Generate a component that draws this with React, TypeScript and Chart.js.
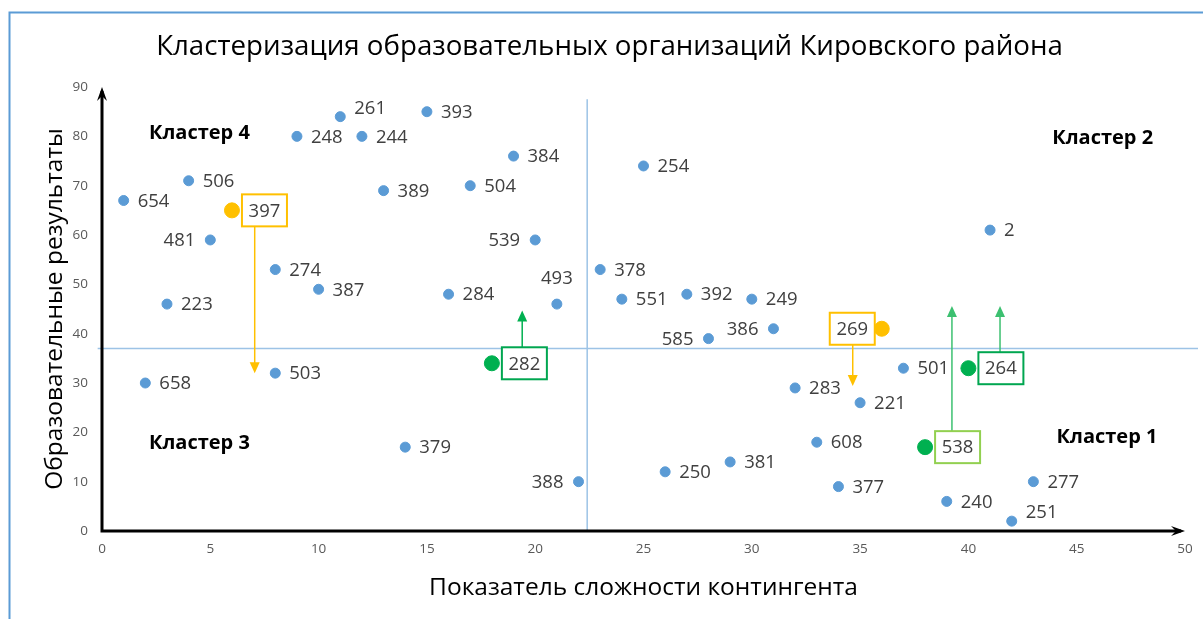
import React, { useEffect, useRef } from 'react';
import { Chart, registerables } from 'chart.js';

Chart.register(...registerables);

const chartTitle = 'Кластеризация образовательных организаций Кировского района';
const xAxisTitle = 'Показатель сложности контингента';
const yAxisTitle = 'Образовательные результаты';

const xTickMin = 0;
const xTickMax = 50;
const xTickStep = 5;
const yTickMin = 0;
const yTickMax = 90;
const yTickStep = 10;

// regular schools (blue)
const pointIds = [654, 506, 481, 274, 387, 223, 261, 248, 244, 393, 389, 504, 384, 254, 539, 284, 493, 378, 551, 392, 249, 585, 386, 2, 501, 283, 221, 608, 377, 240, 251, 277, 250, 381, 388, 379, 658, 503];
const pointX = [1, 4, 5, 8, 10, 3, 11, 9, 12, 15, 13, 17, 19, 25, 20, 16, 21, 23, 24, 27, 30, 28, 31, 41, 37, 32, 35, 33, 34, 39, 42, 43, 26, 29, 22, 14, 2, 8];
const pointY = [67, 71, 59, 53, 49, 46, 84, 80, 80, 85, 69, 70, 76, 74, 59, 48, 46, 53, 47, 48, 47, 39, 41, 61, 33, 29, 26, 18, 9, 6, 2, 10, 12, 14, 10, 17, 30, 32];
const labelsLeft = [481, 539, 585, 386, 388];
const labelsAbove = [493];
const labelsRaised = [261, 251];

// schools moving down (orange)
const downIds = [397, 269];
const downX = [6, 36];
const downY = [65, 41];
// schools moving up (green)
const upIds = [282, 264, 538];
const upX = [18, 40, 38];
const upY = [34, 33, 17];
const boxLeft = [269];

// arrows: from the labelled box to the target level
const arrowIds = [397, 282, 269, 538, 264];
const arrowX = [7.05, 19.4, 34.66, 39.24, 41.46];
const arrowTipY = [32, 44.7, 29.4, 45.6, 45.6];

// cluster dividers
const dividerX = 22.4;
const dividerY = 37;

const clusterNames = ['Кластер 4', 'Кластер 2', 'Кластер 3', 'Кластер 1'];
const clusterX = [4.5, 46.2, 4.5, 46.4];
const clusterY = [80.7, 79.7, 17.8, 19];

const FONT = "'Open Sans', sans-serif";
const BLUE = '#5B9BD5';
const ORANGE = '#FFC000';
const GREEN = '#00B050';
const LIGHT_GREEN = '#92D050';
const LINE_BLUE = '#9DC3E6';
const LABEL = '#404040';

const boxColor = (id: number) => {
  if (downIds.includes(id)) return ORANGE;
  if (id === 538) return LIGHT_GREEN;
  return '#00A650';
};
const arrowColor = (id: number) => {
  if (downIds.includes(id)) return ORANGE;
  if (id === 282) return '#00B050';
  return '#3CC070';
};

function boxRect(chart: any, id: number) {
  const xs = chart.scales.x;
  const ys = chart.scales.y;
  let vx = 0, vy = 0;
  const di = downIds.indexOf(id);
  if (di >= 0) { vx = downX[di]; vy = downY[di]; }
  const ui = upIds.indexOf(id);
  if (ui >= 0) { vx = upX[ui]; vy = upY[ui]; }
  const px = xs.getPixelForValue(vx);
  const py = ys.getPixelForValue(vy);
  const w = 45;
  const h = 32;
  const left = boxLeft.includes(id) ? px - 7 - w : px + 10;
  return { left, top: py - h / 2, w, h };
}

const annotPlugin = {
  id: 'annot',
  beforeDraw(chart: any) {
    const ctx = chart.ctx;
    ctx.save();
    ctx.strokeStyle = '#5B9BD5';
    ctx.lineWidth = 2;
    ctx.beginPath();
    ctx.moveTo(9.5, chart.height);
    ctx.lineTo(9.5, 12.5);
    ctx.lineTo(chart.width, 12.5);
    ctx.stroke();
    ctx.restore();
  },
  afterDatasetsDraw(chart: any) {
    const ctx = chart.ctx;
    const xs = chart.scales.x;
    const ys = chart.scales.y;
    const x0 = xs.getPixelForValue(xTickMin);
    const x1 = xs.getPixelForValue(xTickMax);
    const y0 = ys.getPixelForValue(yTickMin);
    const y1 = ys.getPixelForValue(yTickMax);
    ctx.save();
    // axes with arrows
    ctx.strokeStyle = '#000';
    ctx.fillStyle = '#000';
    ctx.lineWidth = 3;
    ctx.lineCap = 'butt';
    ctx.beginPath();
    ctx.moveTo(x0, y0);
    ctx.lineTo(x1 - 4, y0);
    ctx.moveTo(x0, y0 + 1.5);
    ctx.lineTo(x0, y1 + 4);
    ctx.stroke();
    ctx.beginPath();
    ctx.moveTo(x1, y0);
    ctx.lineTo(x1 - 14, y0 - 5);
    ctx.lineTo(x1 - 9, y0);
    ctx.lineTo(x1 - 14, y0 + 5);
    ctx.closePath();
    ctx.fill();
    ctx.beginPath();
    ctx.moveTo(x0, y1);
    ctx.lineTo(x0 - 5, y1 + 14);
    ctx.lineTo(x0, y1 + 9);
    ctx.lineTo(x0 + 5, y1 + 14);
    ctx.closePath();
    ctx.fill();

    // point labels
    ctx.font = `18.5px ${FONT}`;
    ctx.fillStyle = LABEL;
    ctx.textBaseline = 'middle';
    pointIds.forEach((id, i) => {
      const px = xs.getPixelForValue(pointX[i]);
      const py = ys.getPixelForValue(pointY[i]);
      const t = String(id);
      if (labelsLeft.includes(id)) {
        ctx.textAlign = 'right';
        ctx.fillText(t, px - 15, py + 1);
      } else if (labelsAbove.includes(id)) {
        ctx.textAlign = 'center';
        ctx.fillText(t, px, py - 25);
      } else {
        ctx.textAlign = 'left';
        ctx.fillText(t, px + 14, py + (labelsRaised.includes(id) ? -8 : 1));
      }
    });

    // arrows
    arrowIds.forEach((id, i) => {
      const r = boxRect(chart, id);
      const ax = xs.getPixelForValue(arrowX[i]);
      const tip = ys.getPixelForValue(arrowTipY[i]);
      const down = tip > r.top + r.h;
      const start = down ? r.top + r.h : r.top;
      const col = arrowColor(id);
      ctx.strokeStyle = col;
      ctx.fillStyle = col;
      ctx.lineWidth = 1.5;
      ctx.beginPath();
      ctx.moveTo(ax, start);
      ctx.lineTo(ax, down ? tip - 10 : tip + 10);
      ctx.stroke();
      ctx.beginPath();
      ctx.moveTo(ax, tip);
      ctx.lineTo(ax - 5, down ? tip - 11 : tip + 11);
      ctx.lineTo(ax + 5, down ? tip - 11 : tip + 11);
      ctx.closePath();
      ctx.fill();
    });

    // boxed labels
    [...downIds, ...upIds].forEach((id) => {
      const r = boxRect(chart, id);
      ctx.fillStyle = '#fff';
      ctx.fillRect(r.left, r.top, r.w, r.h);
      ctx.strokeStyle = boxColor(id);
      ctx.lineWidth = 2;
      ctx.strokeRect(r.left, r.top, r.w, r.h);
      ctx.fillStyle = LABEL;
      ctx.font = `18.5px ${FONT}`;
      ctx.textAlign = 'center';
      ctx.textBaseline = 'middle';
      ctx.fillText(String(id), r.left + r.w / 2, r.top + r.h / 2 + 1);
    });

    // cluster names
    ctx.fillStyle = '#000';
    ctx.font = `bold 20px ${FONT}`;
    ctx.textAlign = 'center';
    ctx.textBaseline = 'middle';
    clusterNames.forEach((n, i) => {
      ctx.fillText(n, xs.getPixelForValue(clusterX[i]), ys.getPixelForValue(clusterY[i]));
    });
    ctx.restore();
  },
};

export default function App() {
  const ref = useRef<HTMLCanvasElement | null>(null);
  useEffect(() => {
    if (!ref.current) return;
    const toXY = (xs: number[], ys: number[]) => xs.map((x, i) => ({ x, y: ys[i] }));
    const chart = new Chart(ref.current, {
      type: 'scatter',
      data: {
        datasets: [
          {
            label: 'Разделитель X',
            type: 'line',
            data: [{ x: dividerX, y: yTickMin }, { x: dividerX, y: 87.5 }],
            borderColor: LINE_BLUE,
            borderWidth: 1.5,
            pointRadius: 0,
            showLine: true,
            clip: false,
            order: 10,
          } as any,
          {
            label: 'Разделитель Y',
            type: 'line',
            data: [{ x: -0.2, y: dividerY }, { x: 50.6, y: dividerY }],
            borderColor: LINE_BLUE,
            borderWidth: 1.5,
            pointRadius: 0,
            showLine: true,
            clip: false,
            order: 10,
          } as any,
          {
            label: 'ОО',
            data: toXY(pointX, pointY),
            backgroundColor: BLUE,
            borderColor: BLUE,
            pointRadius: 5,
            order: 1,
          },
          {
            label: 'Вниз',
            data: toXY(downX, downY),
            backgroundColor: ORANGE,
            borderColor: ORANGE,
            pointRadius: 7.5,
            order: 1,
          },
          {
            label: 'Вверх',
            data: toXY(upX, upY),
            backgroundColor: GREEN,
            borderColor: GREEN,
            pointRadius: 7.5,
            order: 1,
          },
        ],
      },
      options: {
        animation: false,
        responsive: false,
        maintainAspectRatio: false,
        layout: { padding: { left: 34, right: 18, top: 0, bottom: 0 } },
        plugins: {
          legend: { display: false },
          tooltip: { enabled: false },
          title: {
            display: true,
            text: chartTitle,
            color: '#000',
            font: { family: FONT, size: 27.7, weight: 'normal', lineHeight: 1.2 },
            padding: { top: 30.4, bottom: 23.4 },
          },
        },
        scales: {
          x: {
            type: 'linear',
            min: xTickMin,
            max: xTickMax,
            grid: { display: false, drawTicks: false },
            border: { display: false },
            ticks: { stepSize: xTickStep, color: '#595959', font: { family: FONT, size: 13.5 }, padding: 10 },
            title: {
              display: true,
              text: xAxisTitle,
              color: '#000',
              font: { family: FONT, size: 24.5, lineHeight: 1.2 },
              padding: { top: 0, bottom: 16 },
            },
            afterFit: (s: any) => {
              s.height = 88;
              s.paddingLeft = 0;
              s.paddingRight = 0;
            },
          },
          y: {
            type: 'linear',
            min: yTickMin,
            max: yTickMax,
            grid: { display: false, drawTicks: false },
            border: { display: false },
            ticks: { stepSize: yTickStep, color: '#595959', font: { family: FONT, size: 13.5 }, padding: 14 },
            title: {
              display: true,
              text: yAxisTitle,
              color: '#000',
              font: { family: FONT, size: 24.5, lineHeight: 1.2 },
              padding: { top: 6, bottom: 0 },
            },
            afterFit: (s: any) => {
              s.width = 68;
              s.paddingTop = 0;
              s.paddingBottom = 0;
            },
          },
        },
      },
      plugins: [annotPlugin],
    });
    return () => chart.destroy();
  }, []);
  return (
    <div style={{ position: 'absolute', left: 0, top: 0, width: 1203, height: 619, background: '#fff' }}>
      <canvas ref={ref} width={1203} height={619} style={{ display: 'block' }} />
    </div>
  );
}
